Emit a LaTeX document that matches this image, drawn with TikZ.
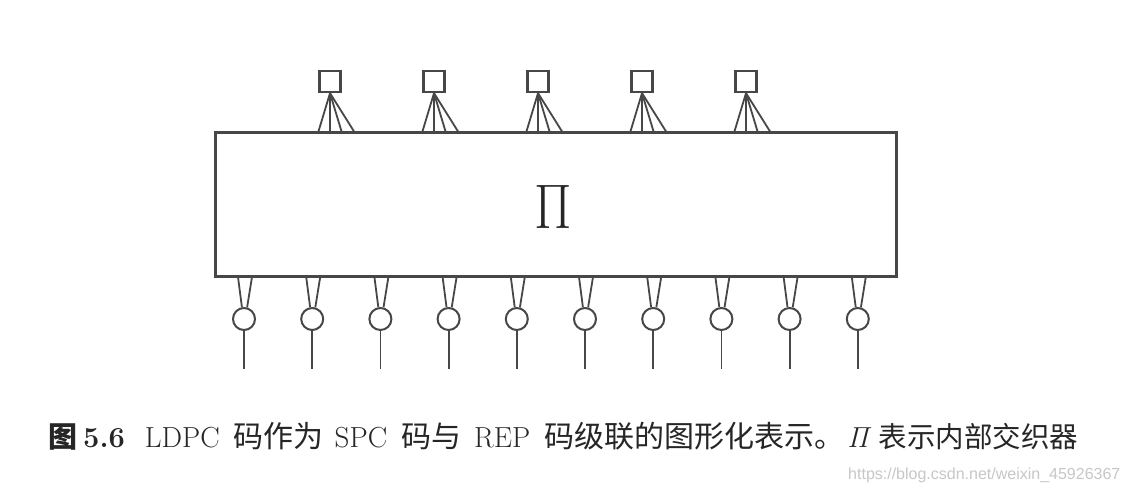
\RequirePackage{fix-cm}
\documentclass[tikz,border=0pt]{standalone}
\usepackage[no-math]{fontspec}
\newfontfamily\cjk{Noto Sans CJK SC}
\newfontfamily\wm{Liberation Sans}
\newcommand{\zh}[1]{{\cjk\fontsize{30}{30}\selectfont #1}}
\newcommand{\zhs}[1]{{\cjk\fontsize{28.5}{28.5}\selectfont #1}}
\begin{document}
\begin{tikzpicture}[x=1pt,y=-1pt,
  ln/.style={draw=black!72, line width=1.8pt},
  bigbox/.style={draw=black!72, line width=3pt, rectangle, minimum width=681pt, minimum height=144pt, inner sep=0pt},
  chk/.style={draw=black!72, line width=2.3pt, rectangle, minimum size=21pt, inner sep=0pt},
  var/.style={draw=black!72, line width=2pt, circle, minimum size=22pt, inner sep=0pt}]
\useasboundingbox (0,0) rectangle (1130,494);
\fill[white] (0,0) rectangle (1130,494);
% interleaver box
\node[bigbox] (pi) at (555.5,205) {};
\node (pisym) at (553,207) {\color{black!85}\scalebox{0.86}[1]{\fontsize{63}{63}\selectfont$\Pi$}};
% check nodes (squares) with fans
\foreach \i/\x in {1/330,2/434,3/538,4/642,5/746}{
  \node[chk] (s\i) at (\x,81.5) {};
  \foreach \j/\d in {a/-12,b/0,c/12,d/25}{
    \coordinate (t\i\j) at (\x+\d,133);
    \draw[ln] (s\i.south) -- (t\i\j);
  }
}
% variable nodes (circles)
\foreach \i in {1,...,10}{
  \pgfmathsetmacro{\cx}{244+68.2*(\i-1)}
  \node[var] (c\i) at (\cx,319) {};
  \coordinate (bl\i) at (\cx-6,277);
  \coordinate (br\i) at (\cx+8,277);
  \coordinate (e\i) at (\cx,369);
  \draw[ln] (bl\i) -- (c\i.100);
  \draw[ln] (br\i) -- (c\i.75);
  \draw[ln] (c\i.south) -- (e\i);
}
% caption
\node[anchor=base west, inner sep=0pt, text=black!85] (cap) at (48,447) {\fontsize{29}{29}\selectfont {\cjk\bfseries 图}\hspace{6pt}\textbf{5.6}\hspace{20pt}LDPC\hspace{14pt}\zh{码作为}\hspace{11pt}SPC\hspace{14pt}\zh{码与}\hspace{13pt}REP\hspace{14pt}\zh{码级联的图形化表示。}\hspace{3pt}$\mathit{\Pi}$\hspace{6pt}\zhs{表示内部交织器}};
\node[anchor=base west, inner sep=0pt, text=black!22] (wmk) at (848,479) {\wm\fontsize{16}{16}\selectfont https://blog.csdn.net/weixin\_45926367};
\end{tikzpicture}
\end{document}
